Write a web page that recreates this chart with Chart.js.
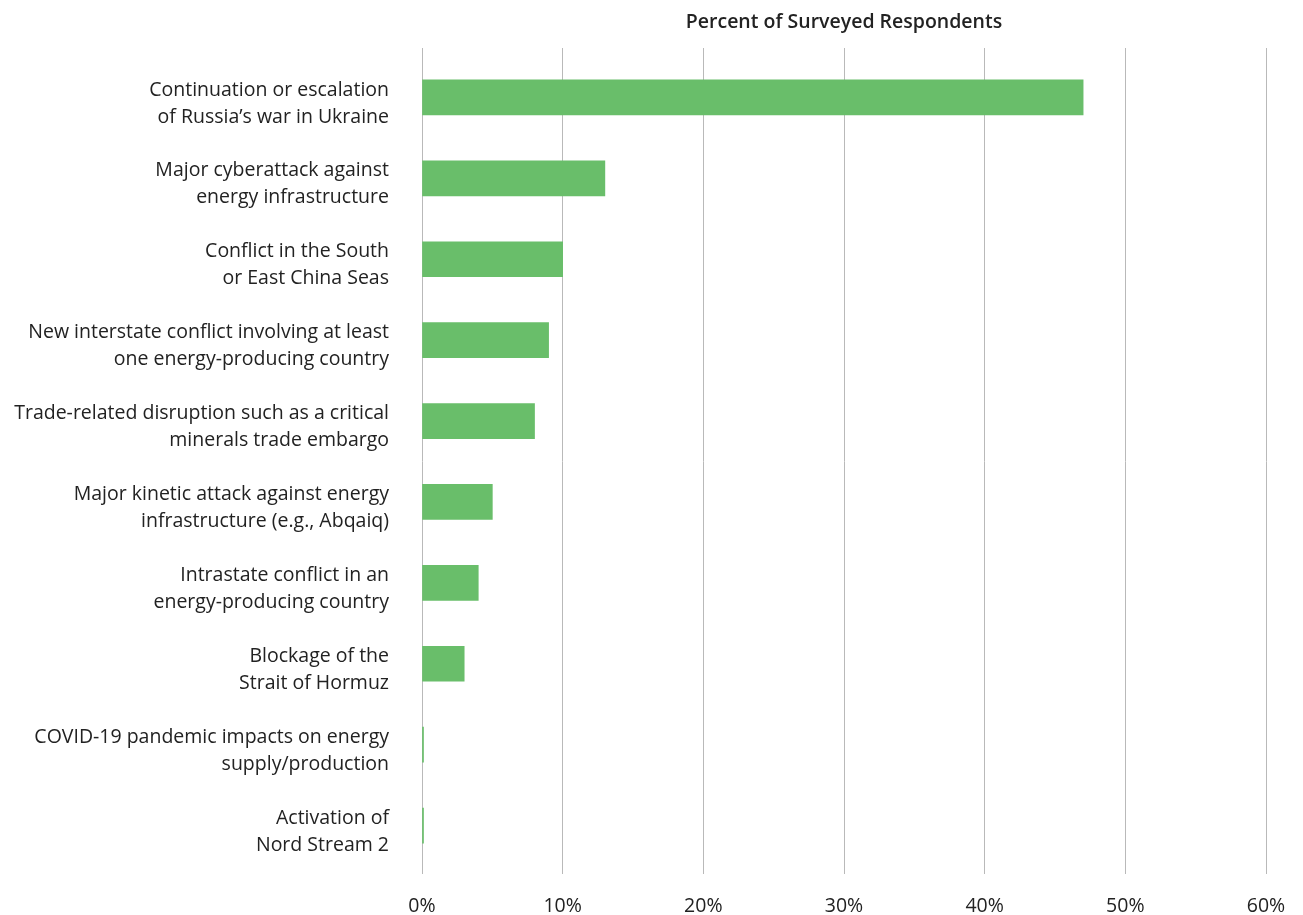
<!DOCTYPE html>
<html>
<head>
<meta charset="utf-8">
<script src="https://cdn.jsdelivr.net/npm/chart.js@4"></script>
<style>
  html, body { margin: 0; padding: 0; background: #ffffff; }
  #wrap { width: 1303px; height: 915px; }
</style>
</head>
<body>
<div id="wrap"><canvas id="chart" width="1303" height="915"></canvas></div>
<script>
// Risk categories (multi-line labels) and share of respondents (%)
const categories = [
  ["Continuation or escalation", "of Russia\u2019s war in Ukraine"],
  ["Major cyberattack against", "energy infrastructure"],
  ["Conflict in the South", "or East China Seas"],
  ["New interstate conflict involving at least", "one energy-producing country"],
  ["Trade-related disruption such as a critical", "minerals trade embargo"],
  ["Major kinetic attack against energy", "infrastructure (e.g., Abqaiq)"],
  ["Intrastate conflict in an", "energy-producing country"],
  ["Blockage of the", "Strait of Hormuz"],
  ["COVID-19 pandemic impacts on energy", "supply/production"],
  ["Activation of", "Nord Stream 2"]
];
const percentValues = [47, 13, 10, 9, 8, 5, 4, 3, 0, 0];
const xTickValues = [0, 10, 20, 30, 40, 50, 60];
const axisTitle = "Percent of Surveyed Respondents";

const FONT = "'Open Sans', Lato, sans-serif";
const GRID = "#b9b9b9";

new Chart(document.getElementById("chart"), {
  type: "bar",
  data: {
    labels: categories,
    datasets: [{
      data: percentValues,
      backgroundColor: "#69be6a",
      borderWidth: 0,
      barThickness: 35,
      minBarLength: 1.5
    }]
  },
  options: {
    indexAxis: "y",
    responsive: false,
    animation: false,
    layout: { padding: { left: 0, right: 37, top: 0, bottom: 0 } },
    plugins: { legend: { display: false }, tooltip: { enabled: false } },
    scales: {
      x: {
        position: "bottom",
        min: 0, max: 60,
        afterBuildTicks: s => { s.ticks = xTickValues.map(v => ({ value: v })); },
        grid: { color: GRID, lineWidth: 1, tickLength: 8 },
        border: { display: false },
        ticks: {
          callback: v => v + "%",
          color: "#222222",
          padding: 21,
          font: { family: FONT, size: 19.5 }
        },
        afterFit: s => { s.height = 49; s.paddingLeft = 0; s.paddingRight = 0; }
      },
      x2: {
        position: "top",
        min: 0, max: 60,
        afterBuildTicks: s => { s.ticks = xTickValues.map(v => ({ value: v })); },
        grid: { color: GRID, lineWidth: 1, tickLength: 9, drawOnChartArea: false },
        border: { display: false },
        ticks: { display: false },
        title: {
          display: true,
          text: axisTitle,
          color: "#222222",
          font: { family: FONT, size: 19.5, weight: "600" },
          padding: { top: 11, bottom: 4 }
        },
        afterFit: s => { s.height = 57; s.paddingLeft = 0; s.paddingRight = 0; }
      },
      y: {
        grid: { display: false },
        border: { display: false },
        ticks: {
          color: "#222222",
          padding: 25,
          labelOffset: 6,
          font: { family: FONT, size: 19.5, lineHeight: 1.385 }
        },
        afterFit: s => { s.width = 422; s.paddingTop = 0; s.paddingBottom = 0; }
      }
    }
  }
});
</script>
</body>
</html>
